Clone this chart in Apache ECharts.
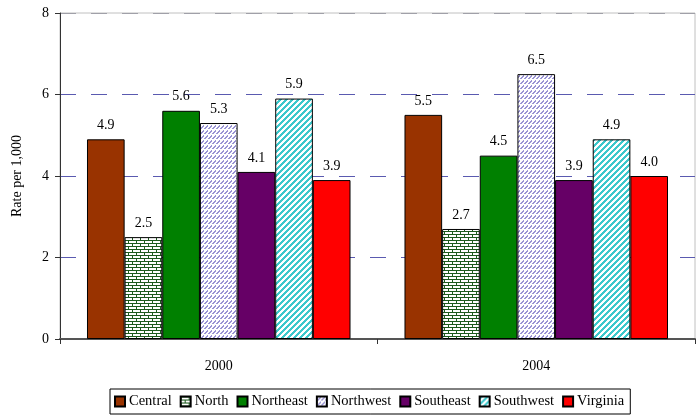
<!DOCTYPE html>
<html>
<head>
<meta charset="utf-8">
<style>
  html, body { margin: 0; padding: 0; background: #fff; }
  #chart { width: 699px; height: 415px; }
</style>
<script src="https://cdn.jsdelivr.net/npm/echarts@6/dist/echarts.min.js"></script>
</head>
<body>
<div id="chart"></div>
<script>
// Rates per 1,000 by region, 2000 and 2004
const years = ['2000', '2004'];
const regions = ['Central', 'North', 'Northeast', 'Northwest', 'Southeast', 'Southwest', 'Virginia'];
const central = [4.9, 5.5];
const north = [2.5, 2.7];
const northeast = [5.6, 4.5];
const northwest = [5.3, 6.5];
const southeast = [4.1, 3.9];
const southwest = [5.9, 4.9];
const virginia = [3.9, 4.0];
const yTicks = [0, 2, 4, 6, 8];

// Small canvas tiles used as bar fills
function tile(w, h, draw) {
  const c = document.createElement('canvas');
  c.width = w; c.height = h;
  const ctx = c.getContext('2d');
  ctx.fillStyle = '#fff';
  ctx.fillRect(0, 0, w, h);
  draw(ctx);
  return { image: c, repeat: 'repeat' };
}

// brick pattern, dark green mortar
const brick = tile(8, 6, ctx => {
  ctx.fillStyle = '#1d5a1d';
  ctx.fillRect(0, 0, 8, 1);
  ctx.fillRect(0, 3, 8, 1);
  ctx.fillRect(0, 0, 1, 3);
  ctx.fillRect(4, 3, 1, 3);
});

// small lavender zig-zag strokes
const zigzag = tile(4, 5, ctx => {
  ctx.fillStyle = '#9a94d4';
  ctx.fillRect(0, 3, 1, 1);
  ctx.fillRect(1, 2, 1, 2);
  ctx.fillRect(2, 1, 1, 2);
  ctx.fillRect(3, 0, 1, 2);
});

// cyan diagonal stripes
const stripes = tile(6, 6, ctx => {
  ctx.fillStyle = '#3cc8cc';
  for (let i = 0; i < 6; i++) {
    const x0 = (6 - i) % 6;
    ctx.fillRect(x0, i, 3, 1);
    if (x0 + 3 > 6) ctx.fillRect(0, i, x0 + 3 - 6, 1);
  }
});

const fills = ['#993300', brick, '#008000', zigzag, '#660066', stripes, '#ff0000'];
const values = [central, north, northeast, northwest, southeast, southwest, virginia];

const font = '"Liberation Serif", "Times New Roman", serif';

const series = regions.map((name, i) => ({
  name: name,
  type: 'bar',
  data: values[i],
  barGap: '0%',
  barCategoryGap: '17%',
  itemStyle: { color: fills[i], borderColor: '#000', borderWidth: 1 },
  label: {
    show: true,
    position: 'top',
    distance: 7,
    color: '#000',
    fontFamily: font,
    fontSize: 14,
    formatter: p => p.value.toFixed(1)
  },
  emphasis: { disabled: true }
}));

const chart = echarts.init(document.getElementById('chart'));
chart.setOption({
  animation: false,
  backgroundColor: '#fff',
  grid: {
    left: 60, right: 4, top: 13, bottom: 76,
    show: true, borderColor: '#c0c0c0', borderWidth: 1
  },
  legend: {
    data: regions,
    left: 110,
    top: 389,
    padding: [5, 6, 5, 4],
    itemGap: 8,
    itemWidth: 10,
    itemHeight: 10,
    icon: 'rect',
    borderColor: '#000',
    borderWidth: 1,
    textStyle: { fontFamily: font, fontSize: 14.5, color: '#000', padding: [0, 0, 0, -1] }
  },
  xAxis: {
    type: 'category',
    data: years,
    axisLine: { lineStyle: { color: '#555', width: 2 } },
    axisTick: { show: true, length: 5, lineStyle: { color: '#333' } },
    axisLabel: { color: '#000', fontFamily: font, fontSize: 14, margin: 20 }
  },
  yAxis: {
    type: 'value',
    min: yTicks[0],
    max: yTicks[yTicks.length - 1],
    interval: 2,
    name: 'Rate per 1,000',
    nameLocation: 'middle',
    nameGap: 36,
    nameTextStyle: { color: '#000', fontFamily: font, fontSize: 14 },
    axisLine: { show: true, lineStyle: { color: '#333' } },
    axisTick: { show: true, length: 5, lineStyle: { color: '#333' } },
    axisLabel: { color: '#000', fontFamily: font, fontSize: 14, margin: 11 },
    splitLine: {
      show: true,
      lineStyle: { color: ['#5a5ab0', '#5a5ab0', '#5a5ab0', '#5a5ab0', '#a0a0a8'], type: [16, 15], width: 1 }
    }
  },
  series: series
});
</script>
</body>
</html>
